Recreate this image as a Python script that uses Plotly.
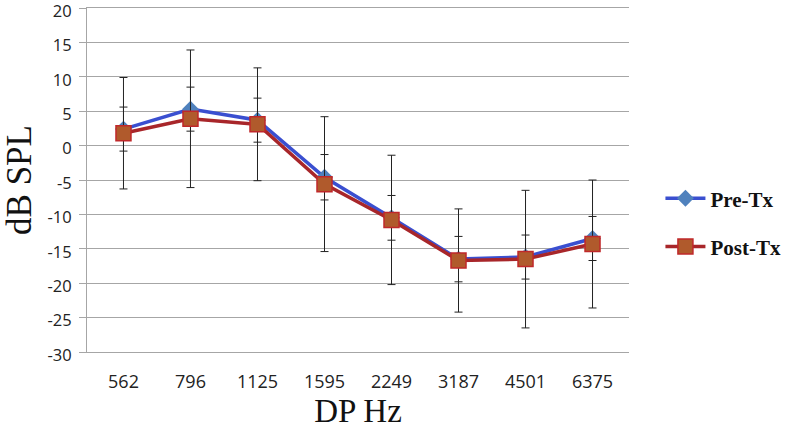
import plotly.graph_objects as go

categories = ["562", "796", "1125", "1595", "2249", "3187", "4501", "6375"]
pre_tx = [2.4, 5.3, 3.7, -4.6, -10.5, -16.5, -16.2, -13.5]
pre_err = [3.2, 3.2, 3.2, 3.3, 3.25, 3.3, 3.2, 3.2]
post_tx = [1.8, 3.9, 3.1, -5.6, -10.8, -16.7, -16.5, -14.3]
post_err = [8.1, 10.0, 8.2, 9.8, 9.4, 7.5, 10.0, 9.3]
y_ticks = [20, 15, 10, 5, 0, -5, -10, -15, -20, -25, -30]

fig = go.Figure()
fig.add_trace(go.Scatter(
    x=categories, y=pre_tx, name="Pre-Tx", mode="lines+markers", legendgroup="pre",
    line=dict(color="#3A4FD0", width=3.5),
    marker=dict(symbol="diamond", size=13, color="#4F81BD", line=dict(width=0)),
    error_y=dict(type="data", array=pre_err, visible=True, color="#222222", thickness=1, width=4),
))
fig.add_trace(go.Scatter(
    x=categories, y=post_tx, name="Post-Tx", mode="lines+markers", legendgroup="post",
    line=dict(color="#A8262A", width=3.5),
    marker=dict(symbol="square", size=15, color="#B05A2C", line=dict(color="#C0282A", width=1.5)),
    error_y=dict(type="data", array=post_err, visible=True, color="#222222", thickness=1, width=4),
))

fig.update_layout(
    width=791, height=433,
    margin=dict(l=87, r=162, t=8, b=81, autoexpand=False),
    paper_bgcolor="white", plot_bgcolor="white",
    font=dict(family="Open Sans", color="#333333", size=16),
    legend=dict(x=1.058, y=0.376, xanchor="left", yanchor="middle",
                font=dict(family="Liberation Serif", size=21, color="#111111", weight="bold"),
                itemwidth=40, tracegroupgap=18, bgcolor="rgba(0,0,0,0)"),
    showlegend=True,
)
fig.update_xaxes(
    type="category", categoryorder="array", categoryarray=categories,
    showgrid=False, showline=True, mirror=True, linecolor="#A6A6A6", linewidth=1,
    zeroline=False, ticks="", automargin=False,
    tickfont=dict(family="Open Sans", size=18, color="#222222"),
    ticklabelstandoff=13,
    title=dict(text="DP Hz", font=dict(family="Liberation Serif", size=33, color="#111111"), standoff=6),
)
fig.update_yaxes(
    range=[-30, 20], tickvals=y_ticks, ticktext=[str(v) for v in y_ticks],
    showgrid=True, gridcolor="#A6A6A6", gridwidth=1, automargin=False,
    showline=True, linecolor="#A6A6A6", linewidth=1,
    zeroline=False, ticks="outside", ticklen=7, tickcolor="#A6A6A6",
    tickfont=dict(family="Open Sans", size=16.5, color="#222222"),
    ticklabelstandoff=4, ticklabeloverflow="allow", ticklabelshift=3,
    title=dict(text="dB SPL", font=dict(family="Liberation Serif", size=35, color="#111111"), standoff=14),
)
fig.write_html("out.html", config={"displayModeBar": False},
               post_script="document.body.style.margin='0px';")
